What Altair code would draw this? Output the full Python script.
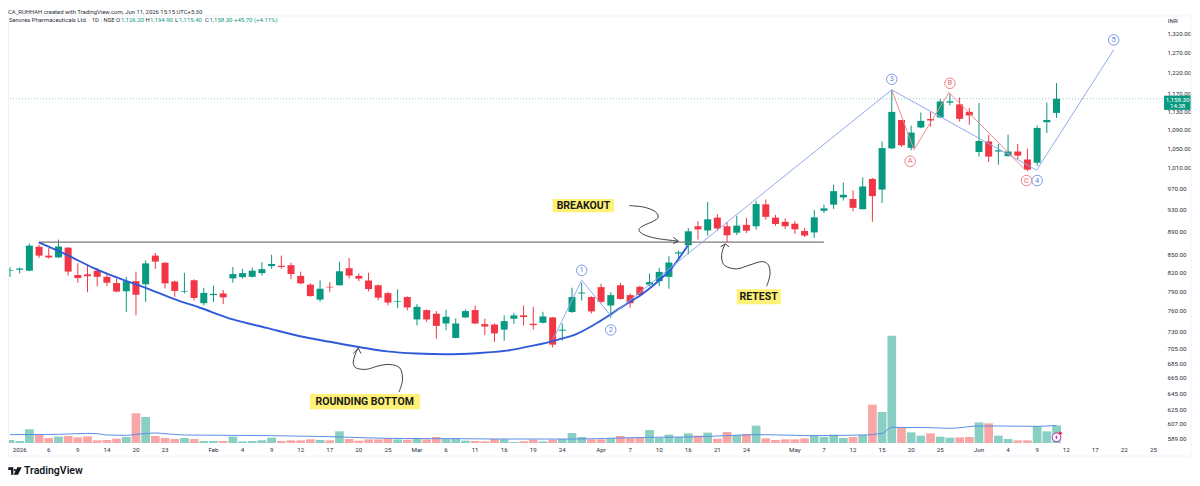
import altair as alt
import pandas as pd

opens = [823,824.5,823,863,848,845,861.5,816,817,823,813,803,790,806,801,848,836,805.5,789.5,807.5,
 771.5,784,786.5,810.5,812.5,813,819,830.5,831,832,814.5,800.5,777,797,799.5,827,814.5,807,799.5,787,
 773.5,781,747,761,755.5,741,720,750,761,740,739.5,732,748,753,740.5,742,750,730.5,758,786.5,
 781,796.5,768,799.5,784,797,800.5,806,813,851.5,865.5,899,891.5,914.5,899,887.5,901.5,899,939,914.5,
 907,903.5,890.5,888,927,938.5,952,949,930,987.5,967,1049.5,1110.5,1050.5,1094,1112.5,1116,1149.5,1145.5,1128.5,
 1042,1064,1043,1033.5,1043,1026.5,1020,1105.5,1126.2]
closes = [824,826.5,865,848,845,863.5,821.5,811,814,813,803.5,789.5,806,784.5,835,838,802.5,790.5,790.5,779.5,
 787.5,786,780.5,817.5,819,823,825.5,834,829,817.5,802.5,782.5,794,796,822,815,810,793.5,780,772.5,
 774.5,765,766,747,737.5,751,741,759.5,741,736.5,726.5,744.5,753,750.5,738.5,751.5,710.5,732,781,788,
 759,773.5,784,778,771.5,784,804.5,821,836.5,853.5,890,893.5,911.5,895,883,900,891,939.5,916,903,
 899,893.5,882.5,915,931.5,964,957,932.5,973,954.5,1050,1128.5,1056,1083,1108.5,1109.5,1152,1152.5,1113,1120.5,
 1065,1032.5,1045.5,1043,1034.5,1006,1093,1110.5,1158.3]
highs = [828.5,828.5,868.5,866.5,861,875.5,862.5,835,832,827.5,819.5,810,813,821.5,840,852.5,837,807,819.5,809,
 795.5,799,792,829,826,828,837,849.5,848,836,821.5,802.5,807.5,804.5,838,844,818.5,819.5,800.5,789,
 793,782,770,762,759.5,761.5,748.5,762,768,748,741,753,757,768,766,758.5,750.5,741,795.5,803.5,
 782,802,788.5,803.5,786.5,799,818.5,827.5,847,857,896,908,943.5,921,906,918,914,946,948,919.5,
 913,908,896,928.5,938.5,976.5,980.5,965.5,990.5,989.5,1064,1179,1110.5,1098,1127,1129,1158,1170,1161,1137,
 1148.5,1078,1059,1078.5,1059,1049,1098,1150,1194.9]
lows = [813,818.5,822,844,843,844,815,803.5,788.5,798,798,788.5,758,753,773.5,826,794.5,781.5,786.5,775.5,
 768,773.5,770,803.5,810,812,815,826,826,809,801,781.5,774,788.5,799,810.5,806,790,776,768,
 764,760.5,738,743,719,731,719.5,749,740,724,714.5,716,740.5,738,732,741,706.5,716,757,775.5,
 756,771.5,749.5,777,764.5,782,798,798,794,842,850,875.5,882.5,891,871,883.5,887,893,911,900,
 894,885.5,880,878.5,923,930.5,946,926,929.5,907,941.5,1048,1052.5,1045.5,1092.5,1096,1114.5,1143,1107,1100,
 1032.5,1021.5,1016,1032.5,1026,1003,1014,1082,1115.4]
volumes = [60,40,273,173,100,127,140,113,133,53,60,87,120,593,520,140,100,80,100,80,
 40,40,40,127,33,40,53,107,40,53,53,73,60,53,233,80,47,73,73,93,
 73,67,93,73,120,80,93,47,40,33,80,73,20,33,67,33,67,80,200,120,
 73,73,100,140,100,100,260,100,167,120,193,147,207,87,220,160,180,347,93,60,
 73,73,93,153,120,167,100,120,160,767,620,2147,307,213,147,193,127,107,113,120,
 413,393,147,80,53,53,333,233,353]

ma_i = [0,5,8,9,10,12,13,15,16,18,27,33,39,44,46,50,58,66,70,74,77,81,82,88,90,91,95,97,100,102,106,108]
ma_v = [167,173,193,187,160,153,173,200,187,160,147,127,93,87,87,80,80,113,120,147,167,153,147,160,193,313,307,293,340,340,333,353]

tick_i = [1,4,7,10,13,16,21,24,27,30,33,36,39,42,45,48,51,54,57,61,64,67,70,73,76,81,84,87,90,93,96,100,103,106,109,112,115,118]
tick_t = ["2026","6","9","14","20","23","Feb","4","9","12","17","20","25","Mar","6","11","16","19","24","Apr","7","10","16","21","24","May","7","12","15","20","25","Jun","4","9","12","17","22","25"]
price_ticks = [1320,1270,1220,1170,1130,1090,1050,1010,970,930,890,850,820,790,760,730,705,685,665,645,625,607,589]

curve_i = [2.96,6.02,8.95,12.04,14,16.82,19.6,23,26.5,29.93,33,35.8,38.9,41.97,45.07,48.16,51.26,53.97,56.4,58.5,60.9,63.27,65,66.74,68.3,69.3,69.94]
curve_p = [870.5,848,825,806,795.5,778.5,764.5,747,734.5,722.5,714.5,707.5,701,698,697,698.5,702,709,717,726,744.5,767,783,804,827.5,849.5,865]

wave_i = [56.04,59,62,90.99,105.95,113.9]
wave_p = [718,807.5,752.5,1179,1005,1276.5]
abc_i = [90.99,93.3,96.9,104.75]
abc_p = [1179,1047,1173,1006]

blue_lab = ["1","2","3","4","5"]
blue_i = [59,62,91,106,113.9]
blue_p = [823.5,731.5,1204,984.5,1302]
red_lab = ["A","B","C"]
red_i = [92.9,97,104.9]
red_p = [1023,1194.5,984.5]

arrow_i = [63.91,65.36,66.56,66.9,66.39,65.36,64.91,65.36,66.74,68.87]
arrow_p = [936.5,934,926,915.5,908,900,893,884.5,877.5,873]
head_i = [68.45,68.97,68.45]
head_p = [879.5,873,868.5]
arrow2_i = [78.09,78.43,78.26,77.57,76.37,75,73.79,73.44,73.55,73.82]
arrow2_p = [798,816.5,832.5,838,832.5,826,831,844,858,868]
head2_i = [73.34,73.82,74.2]
head2_p = [863,868,863]
arrow3_i = [40.14,40.5,40.25,39.2,38,36.8,35.78,35.43,35.6,35.94]
arrow3_p = [646.5,662,678,683,681,676.5,678,684.5,696,705.5]
head3_i = [35.43,35.94,36.22]
head3_p = [698,705.5,698]

note_t = ["BREAKOUT","RETEST","ROUNDING BOTTOM"]
note_i = [59.18,77.26,36.6]
note_p = [936.5,781,634.5]
box_i0 = [56,75,30.96]
box_i1 = [62.33,79.54,42.3]
box_p0 = [949,793,644]
box_p1 = [924.5,770,625]

level_i = [3,84]
level_p = [871,871]

GREEN, RED = "#089981", "#F23645"
VGREEN, VRED = "#8ACFC4", "#F9A6A6"
BLUE_THIN, RED_THIN = "#94A9EE", "#F08A8E"
FONT = "Roboto"

W, H = 1155, 435
x_scale = alt.Scale(domain=[-0.206, 118.99], nice=False, zero=False, padding=0)
y_scale = alt.Scale(type="log", domain=[584.3, 1387.3], nice=False, zero=False, padding=0)
v_scale = alt.Scale(domain=[0, 8700], nice=False, zero=False, padding=0)

X = alt.X("i:Q", scale=x_scale, axis=None)
Y = alt.Y("p:Q", scale=y_scale, axis=None)

n = len(opens)
df = pd.DataFrame({"i": range(n), "o": opens, "c": closes, "h": highs, "l": lows, "v": volumes, "v0": [0] * n})
up = "datum.c >= datum.o"

y_axis = alt.Axis(values=price_ticks, orient="right", format=",.2f", domain=False, ticks=False,
                  grid=False, title=None, labelFont=FONT, labelFontSize=6.2, labelColor="#2a2e39",
                  labelPadding=4, labelOverlap=False)

axis_layer = alt.Chart(pd.DataFrame({"i": [0], "p": [1000]})).mark_point(opacity=0).encode(
    x=X,
    y=alt.Y("p:Q", scale=y_scale, axis=y_axis),
)

vol_bars = alt.Chart(df).mark_bar(orient="vertical", size=8.7).encode(
    x=X,
    y=alt.Y("v:Q", scale=v_scale, axis=None),
    y2="v0:Q",
    color=alt.condition(up, alt.value(VGREEN), alt.value(VRED)),
)
vol_ma = alt.Chart(pd.DataFrame({"i": ma_i, "v": ma_v})).mark_line(color="#5B8FE6", strokeWidth=1, interpolate="monotone").encode(
    x=X, y=alt.Y("v:Q", scale=v_scale, axis=None))

wicks = alt.Chart(df).mark_rule(strokeWidth=1).encode(
    x=X,
    y=alt.Y("l:Q", scale=y_scale, axis=None),
    y2="h:Q",
    color=alt.condition(up, alt.value(GREEN), alt.value(RED)),
)
bodies = alt.Chart(df).mark_bar(size=7, orient="vertical").encode(
    x=X, y=alt.Y("o:Q", scale=y_scale, axis=None), y2="c:Q",
    color=alt.condition(up, alt.value(GREEN), alt.value(RED)),
)

last_line = alt.Chart(pd.DataFrame({"p": [closes[-1]]})).mark_rule(color=GREEN, strokeWidth=0.8, strokeDash=[1, 2], opacity=0.6).encode(y=Y)
level = alt.Chart(pd.DataFrame({"i": level_i, "p": level_p})).mark_line(color="#787878", strokeWidth=1.3).encode(x=X, y=Y)
curve = alt.Chart(pd.DataFrame({"i": curve_i, "p": curve_p})).mark_line(color="#2F5BD8", strokeWidth=1.9, interpolate="monotone").encode(x=X, y=Y)
wave = alt.Chart(pd.DataFrame({"i": wave_i, "p": wave_p})).mark_line(color=BLUE_THIN, strokeWidth=1).encode(x=X, y=Y)
abc = alt.Chart(pd.DataFrame({"i": abc_i, "p": abc_p})).mark_line(color=RED_THIN, strokeWidth=1).encode(x=X, y=Y)

def path(xs, ys, interp):
    d = pd.DataFrame({"i": xs, "p": ys, "k": range(len(xs))})
    return alt.Chart(d).mark_line(color="#2b2b2b", strokeWidth=0.9, interpolate=interp).encode(
        x=X, y=Y, order=alt.Order("k:Q"))

def badges(labels, xs, ys, col):
    d = pd.DataFrame({"t": labels, "i": xs, "p": ys})
    base = alt.Chart(d).encode(x=X, y=Y)
    return [base.mark_point(shape="circle", size=110, filled=False, fill="white", fillOpacity=1, stroke=col, strokeWidth=0.8, opacity=1),
            base.mark_text(font=FONT, fontSize=7.5, color=col, baseline="middle", align="center").encode(text="t:N")]

boxes = alt.Chart(pd.DataFrame({"a": box_i0, "b": box_i1, "p": box_p0, "q": box_p1})).mark_rect(color="#FFF176").encode(
    x=alt.X("a:Q", scale=x_scale, axis=None), x2="b:Q", y=Y, y2="q:Q")
notes = alt.Chart(pd.DataFrame({"t": note_t, "i": note_i, "p": note_p})).mark_text(
    font=FONT, fontSize=10.5, fontWeight="bold", color="#1a1a1a", baseline="middle", align="center").encode(x=X, y=Y, text="t:N")

# date labels under the volume pane
date_text = alt.Chart(pd.DataFrame({"t": tick_t, "i": tick_i, "k": range(len(tick_t))})).mark_text(
    font=FONT, fontSize=6.2, color="#2a2e39", baseline="middle", align="center").encode(
    x=X, y=alt.value(H + 7), text="t:N", detail="k:Q")

# price tag on the axis
tag = alt.Chart(pd.DataFrame({"a": [119.1], "b": [121.9], "p": [1165.4], "q": [1133]})).mark_rect(color=GREEN).encode(
    x=alt.X("a:Q", scale=x_scale, axis=None), x2="b:Q", y=Y, y2="q:Q")
tag_text = alt.Chart(pd.DataFrame({"t": ["1,158.30", "14:38"], "i": [120.5, 120.5], "p": [1156, 1141]})).mark_text(
    font=FONT, fontSize=6.2, color="white", baseline="middle", align="center").encode(x=X, y=Y, text="t:N")
inr = alt.Chart(pd.DataFrame({"t": ["INR"], "i": [120.0], "p": [1352]})).mark_text(
    font=FONT, fontSize=6.2, color="#2a2e39", baseline="middle", align="center").encode(x=X, y=Y, text="t:N")

# bottom-right alert icon
icon = alt.Chart(pd.DataFrame({"i": [108], "p": [591]})).mark_point(shape="circle", size=75, filled=False, fill="white", fillOpacity=1, stroke="#B02BB5", strokeWidth=1, opacity=1).encode(x=X, y=Y)
bolt = alt.Chart(pd.DataFrame({"i": [108], "p": [591]})).mark_point(
    shape="M0.3 -1 L-0.5 0.15 H-0.05 L-0.3 1 L0.5 -0.2 H0.05 Z", size=36, filled=True, color="#B02BB5", opacity=1).encode(x=X, y=Y)
dot = alt.Chart(pd.DataFrame({"i": [108.4], "p": [595.8]})).mark_point(shape="circle", size=10, filled=True, color="#F23645", opacity=1).encode(x=X, y=Y)

# header, frame and logo
def ptext(txt, px, py, **kw):
    return alt.Chart(pd.DataFrame({"t": [txt]})).mark_text(font=FONT, align="left", baseline="middle", **kw).encode(
        x=alt.value(px), y=alt.value(py), text="t:N")

header = [
    ptext("CA_RUHHAH created with TradingView.com, Jun 11, 2026 15:15 UTC+5:30", 0, 3.5, fontSize=5.9, color="#2a2e39"),
    ptext("Senores Pharmaceuticals Ltd. · 1D · NSE", 1, 12, fontSize=5.9, color="#2a2e39"),
    ptext("O", 108, 12, fontSize=6, color="#2a2e39"),
    ptext("1,126.20", 113, 12, fontSize=6, color=GREEN),
    ptext("H", 137.5, 12, fontSize=6, color="#2a2e39"),
    ptext("1,194.90", 142, 12, fontSize=6, color=GREEN),
    ptext("L", 167, 12, fontSize=6, color="#2a2e39"),
    ptext("1,115.40", 171, 12, fontSize=6, color=GREEN),
    ptext("C", 197, 12, fontSize=6, color="#2a2e39"),
    ptext("1,158.30", 201.5, 12, fontSize=6, color=GREEN),
    ptext("+45.70 (+4.11%)", 226, 12, fontSize=6, color=GREEN),
    ptext("TradingView", 16, 463, fontSize=10.5, fontWeight=600, color="#131722"),
]
logo = alt.Chart(pd.DataFrame({"t": ["a"]})).mark_point(
    shape="M-1 -0.55 H-0.25 V0.55 H-0.58 V-0.15 H-1 Z M0.35 -0.55 H1 L0.45 0.55 H-0.2 Z M-0.02 -0.3 A0.16 0.16 0 1 0 -0.02 0.02 A0.16 0.16 0 1 0 -0.02 -0.3 Z",
    size=180, filled=True, color="#131722", opacity=1).encode(x=alt.value(7), y=alt.value(463))

FR = "#F0F3FA"
frame = [
    alt.Chart(pd.DataFrame({"t": ["a"]})).mark_rule(color=FR, strokeWidth=1).encode(x=alt.value(0), x2=alt.value(1183), y=alt.value(8)),
    alt.Chart(pd.DataFrame({"t": ["a"]})).mark_rule(color=FR, strokeWidth=1).encode(x=alt.value(0), x2=alt.value(1183), y=alt.value(448)),
    alt.Chart(pd.DataFrame({"t": ["a"]})).mark_rule(color=FR, strokeWidth=1).encode(x=alt.value(0.5), y=alt.value(8), y2=alt.value(448)),
    alt.Chart(pd.DataFrame({"t": ["a"]})).mark_rule(color=FR, strokeWidth=1).encode(x=alt.value(1183), y=alt.value(8), y2=alt.value(448)),
]

vol_group = alt.layer(vol_bars, vol_ma)
price_group = alt.layer(
    wicks, bodies, last_line, level, curve, wave, abc,
    *badges(blue_lab, blue_i, blue_p, "#5F7FE0"),
    *badges(red_lab, red_i, red_p, "#E8636B"),
    path(arrow_i, arrow_p, "cardinal"), path(arrow2_i, arrow2_p, "cardinal"), path(arrow3_i, arrow3_p, "cardinal"),
    path(head_i, head_p, "linear"), path(head2_i, head2_p, "linear"), path(head3_i, head3_p, "linear"),
    boxes, notes, date_text, tag, tag_text, inr, icon, bolt, dot,
    *header, logo, *frame,
)

chart = alt.layer(axis_layer, vol_group, price_group).resolve_scale(y="independent").properties(
    width=W, height=H,
    padding={"left": 0, "top": 0, "right": 29, "bottom": 35},
    autosize=alt.AutoSizeParams(type="none"),
    background="white",
).configure_view(stroke=None)

chart.save("out.html", embed_options={"renderer": "svg", "actions": False})
